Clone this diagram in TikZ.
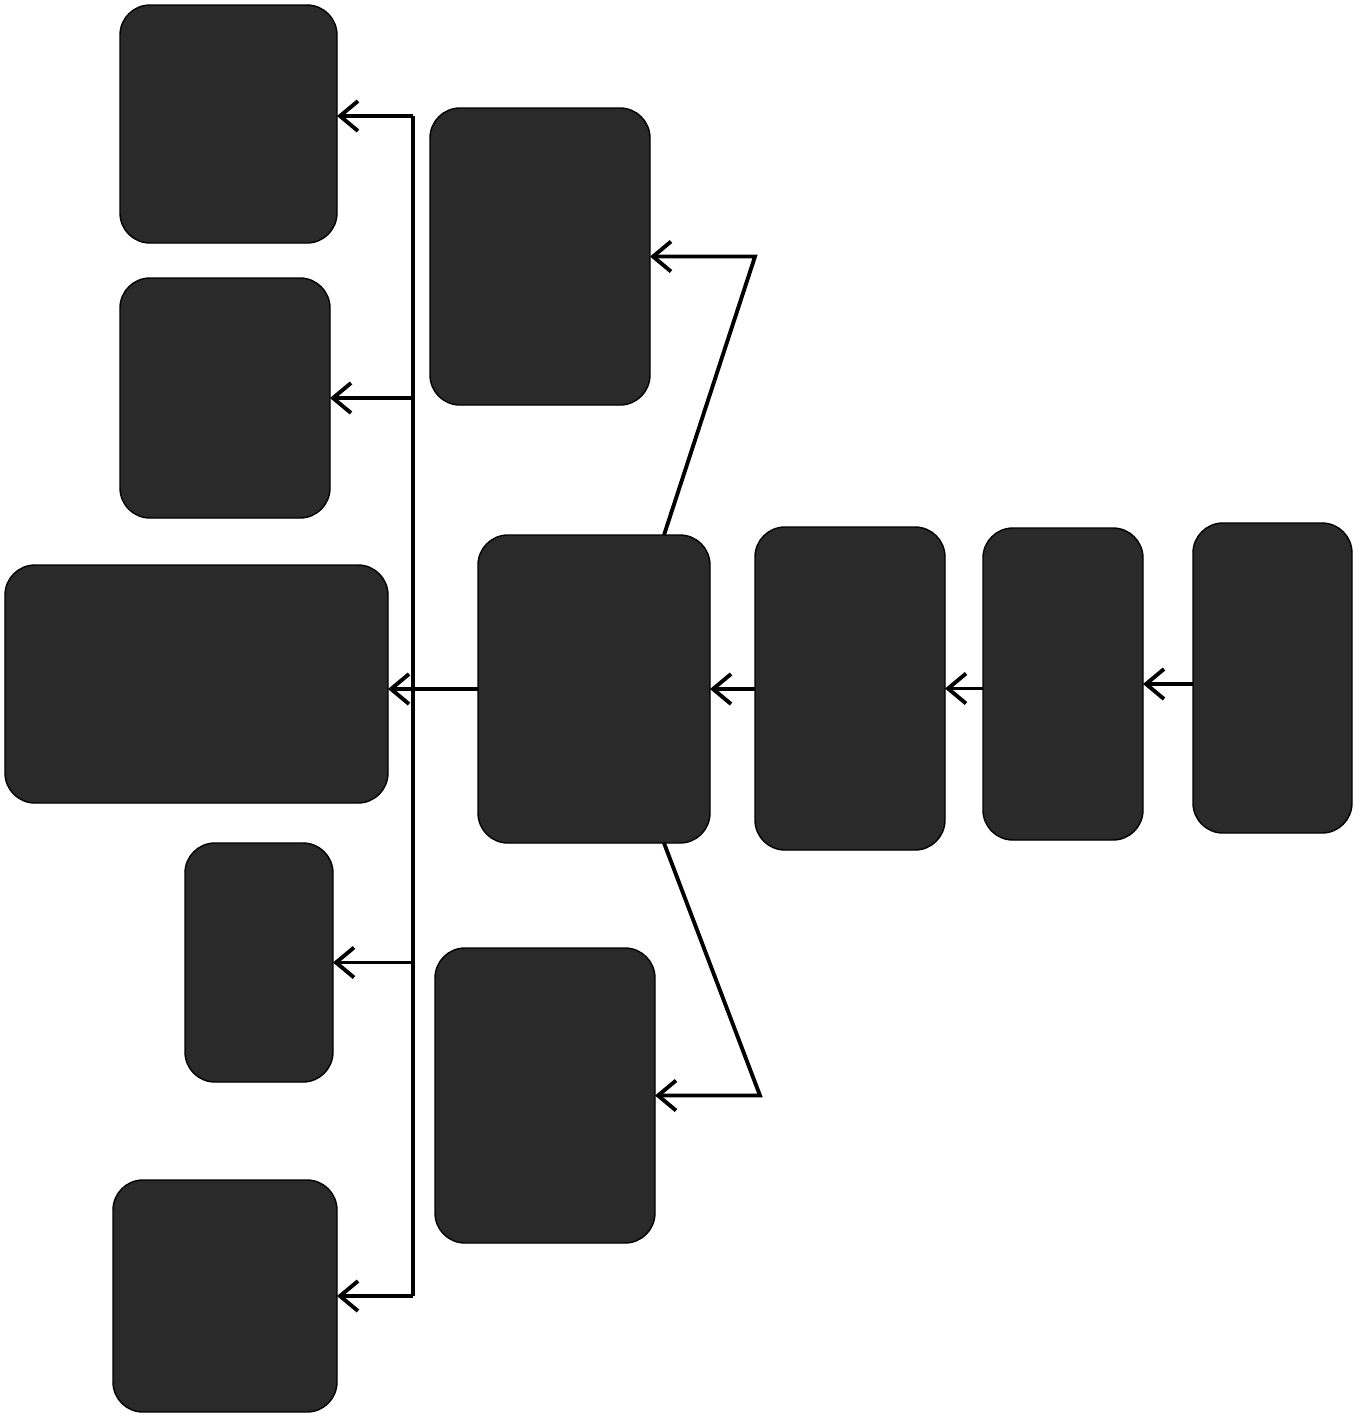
\documentclass[tikz,border=0pt]{standalone}
\usepackage{tikz}
\usetikzlibrary{calc, arrows.meta, positioning}

\begin{document}
\begin{tikzpicture}[scale=1.0, >={Straight Barb[length=1.8mm,width=3mm]}]
    % Định nghĩa màu và kiểu khối
    \definecolor{khoifill}{RGB}{42, 42, 42}
    \tikzset{khoi/.style={draw=black, fill=khoifill, rounded corners=0.3cm, inner sep=0pt, outer sep=0pt},
             noi/.style={line width=1.1pt}}

    % Khung ảnh
    \useasboundingbox (0,0) rectangle (13.70,-14.19);

    % 1. Các khối bên trái
    \node[khoi, minimum width=2.17cm, minimum height=2.38cm] (A) at (2.285, -1.24) {};
    \node[khoi, minimum width=2.10cm, minimum height=2.40cm] (B) at (2.25, -3.98) {};
    \node[khoi, minimum width=3.83cm, minimum height=2.38cm] (C) at (1.965, -6.84) {};
    \node[khoi, minimum width=1.48cm, minimum height=2.39cm] (D) at (2.59, -9.625) {};
    \node[khoi, minimum width=2.24cm, minimum height=2.32cm] (E) at (2.25, -12.96) {};

    % 2. Các khối ở giữa
    \node[khoi, minimum width=2.20cm, minimum height=2.97cm] (F) at (5.40, -2.565) {};
    \node[khoi, minimum width=2.20cm, minimum height=2.95cm] (G) at (5.45, -10.955) {};
    \node[khoi, minimum width=2.32cm, minimum height=3.08cm] (H) at (5.94, -6.89) {};

    % 3. Các khối bên phải
    \node[khoi, minimum width=1.90cm, minimum height=3.23cm] (I) at (8.50, -6.885) {};
    \node[khoi, minimum width=1.60cm, minimum height=3.12cm] (J) at (10.63, -6.84) {};
    \node[khoi, minimum width=1.59cm, minimum height=3.10cm] (K) at (12.725, -6.78) {};

    % 4. Mũi tên nối hàng ngang
    \draw[noi, ->] (K.west |- J) -- (J.east);
    \draw[noi, ->] (J.west |- I) -- (I.east);
    \draw[noi, ->] (I.west |- H) -- (H.east);
    \draw[noi, ->] (H.west) -- (H.west -| C.east);

    % 5. Trục dọc và các nhánh trái
    \coordinate (truc) at (4.13, 0);
    \draw[noi] ([yshift=0.08cm]A.east -| truc) -- (E.east -| truc);
    \draw[noi, ->] ([yshift=0.08cm]A.east -| truc) -- ([yshift=0.08cm]A.east);
    \draw[noi, ->] (B.east -| truc) -- (B.east);
    \draw[noi, ->] (D.east -| truc) -- (D.east);
    \draw[noi, ->] (E.east -| truc) -- (E.east);

    % 6. Nhánh xiên lên và xuống
    \coordinate (gocF) at (7.55, -2.565);
    \coordinate (gocG) at (7.60, -10.955);
    \draw[noi, ->] ([xshift=0.7cm]H.north) -- (gocF) -- (F);
    \draw[noi, ->] ([xshift=0.7cm]H.south) -- (gocG) -- (G);
\end{tikzpicture}
\end{document}
